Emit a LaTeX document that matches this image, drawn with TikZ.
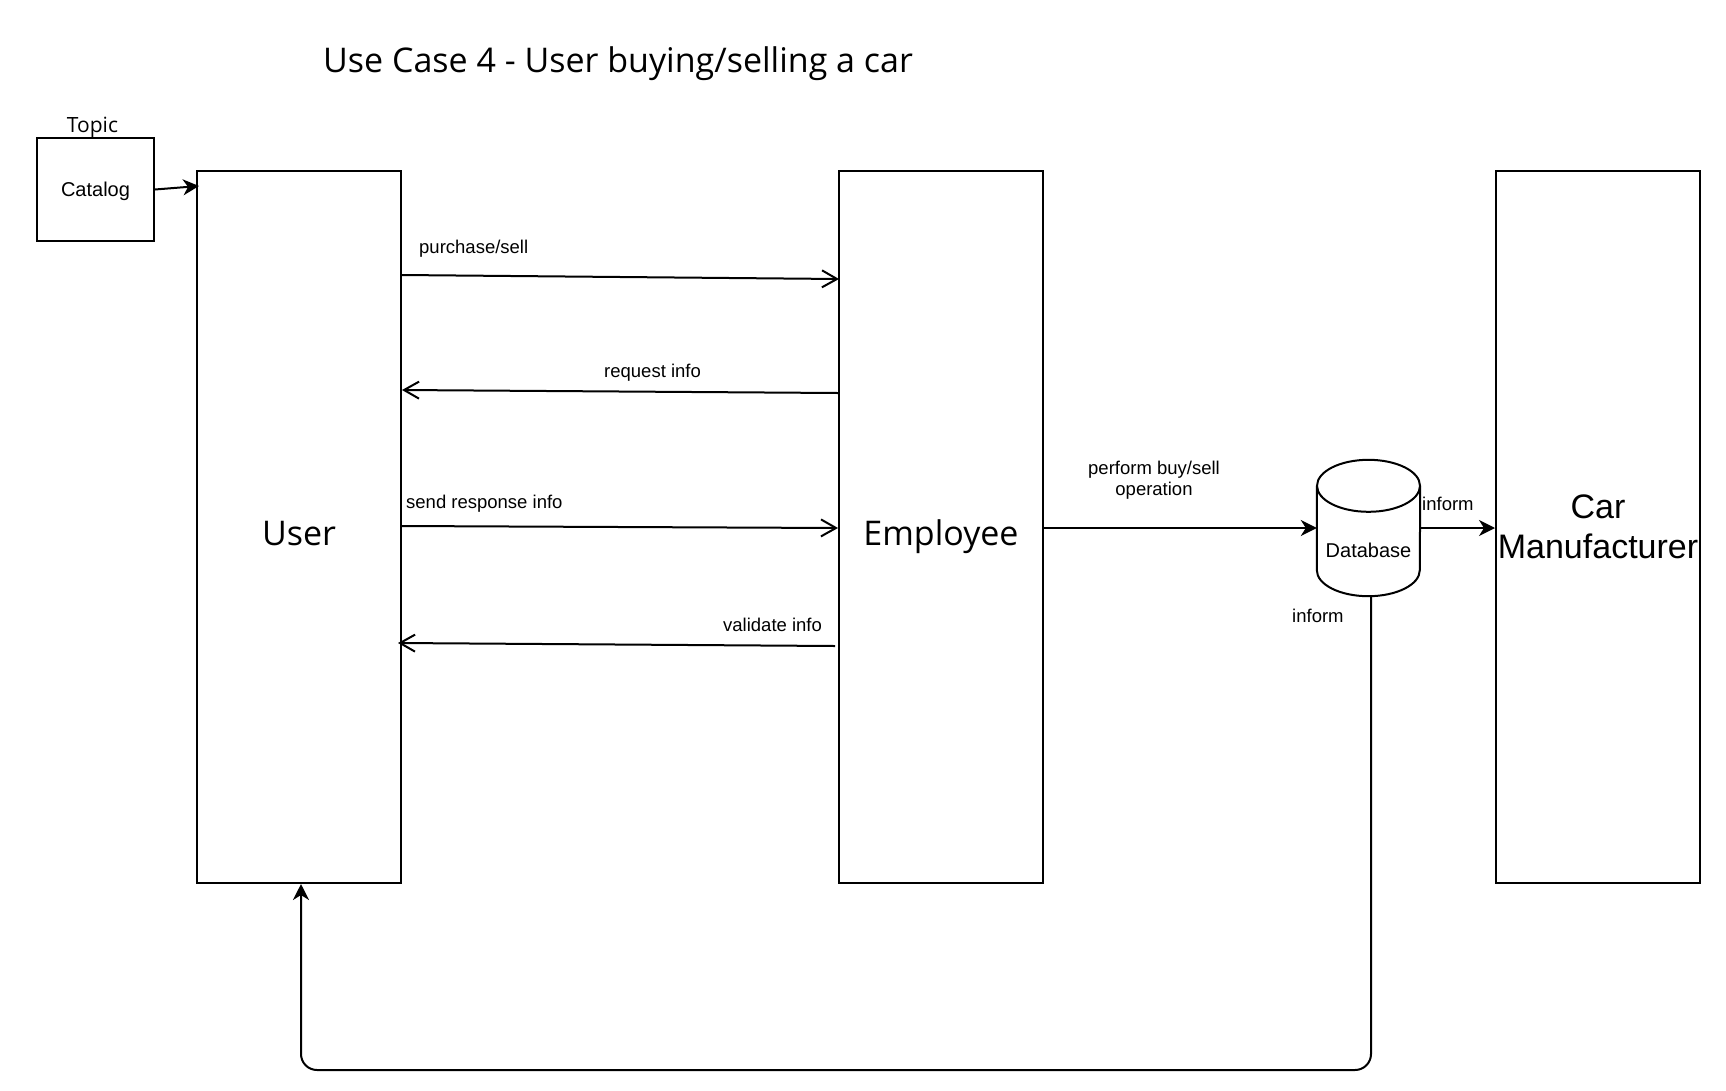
\documentclass[tikz,border=0pt]{standalone}
\usepackage{fontspec}
\setmainfont{Liberation Sans}
\newfontfamily\opensans{Open Sans}
\usetikzlibrary{arrows.meta,calc}
\begin{document}
\begin{tikzpicture}[x=1pt,y=-1pt,
  box/.style={draw, line width=2pt, inner sep=0pt, minimum width=204pt, minimum height=712pt},
  lbl/.style={inner sep=0pt, font=\fontsize{18.5}{21}\selectfont},
  big/.style={font=\opensans\fontsize{34}{40}\selectfont, text height=36pt, text depth=0pt},
  conn/.style={line width=2pt},
  openarrow/.style={conn, -{Straight Barb[length=15pt,width=17pt]}},
  fillarrow/.style={conn, -{Stealth[length=16pt,width=16pt,inset=5pt]}},
]
\useasboundingbox (0,0) rectangle (1726,1090);
\fill[white] (0,0) rectangle (1726,1090);

% title
\node[font=\opensans\fontsize{34}{40}\selectfont, anchor=base west, inner sep=0pt] (title) at (323,72) {Use Case 4 - User buying/selling a car};

% catalog
\node[draw, line width=2pt, inner sep=0pt, minimum width=117pt, minimum height=103pt, font=\fontsize{20}{24}\selectfont, text height=14.5pt, text depth=0pt] (catalog) at (95.5,189.5) {Catalog};
\node[font=\opensans\fontsize{21}{24}\selectfont, anchor=base, inner sep=0pt] (topic) at (92.5,132) {Topic};

% boxes
\node[box, big] (user) at (299,527) {User};
\node[box, big] (employee) at (941,527) {Employee};
\node[box, font=\fontsize{34}{40}\selectfont, align=center] (car) at (1598,527) {Car\\Manufacturer};

% database
\node[inner sep=0pt, minimum width=103pt, minimum height=136pt, font=\fontsize{20}{24}\selectfont, text height=58pt, text depth=0pt] (db) at (1368.5,528) {Database};
\draw[line width=2pt] ($(db.north west)+(0,26)$) -- ($(db.south west)+(0,-26)$)
  arc[start angle=180, end angle=360, x radius=51.5pt, y radius=26pt]
  -- ($(db.north east)+(0,26)$);
\draw[line width=2pt] ($(db.north)+(0,26)$) ellipse[x radius=51.5pt, y radius=26pt];

% catalog -> user
\draw[fillarrow] (catalog.east) -- ($(user.north west)+(3,16)$);

% messages
\draw[openarrow] (user.east |- 0,275) -- ($(employee.west |- 0,279)+(1,0)$);
\node[lbl, anchor=base west] (l1) at (419,253) {purchase/sell};
\draw[openarrow] (employee.west |- 0,393) -- (user.east |- 0,390);
\node[lbl, anchor=base west] (l2) at (604,377) {request info};
\draw[openarrow] (user.east |- 0,526) -- (employee.west |- 0,528);
\node[lbl, anchor=base west] (l3) at (406,508) {send response info};
\draw[openarrow] ($(employee.west |- 0,646)+(-3,0)$) -- ($(user.east |- 0,643)+(-4,0)$);
\node[lbl, anchor=base west] (l4) at (723,631) {validate info};

% employee -> db
\draw[fillarrow] (employee.east |- db.west) -- (db.west);
\node[lbl, align=center, anchor=south] (l5) at (1154,500) {perform buy/sell\\operation};

% db -> car
\draw[fillarrow] (db.east) -- (car.west |- db.east);
\node[lbl, anchor=base west] (l6) at (1422,510) {inform};

% db -> user
\draw[fillarrow, rounded corners=16pt] ($(db.south)+(2.5,0)$) -- ($(db.south |- 0,1070)+(2.5,0)$) -- ($(user.south |- 0,1070)+(2,0)$) -- ($(user.south)+(2,0)$);
\node[lbl, anchor=base west] (l7) at (1292,622) {inform};
\end{tikzpicture}
\end{document}
